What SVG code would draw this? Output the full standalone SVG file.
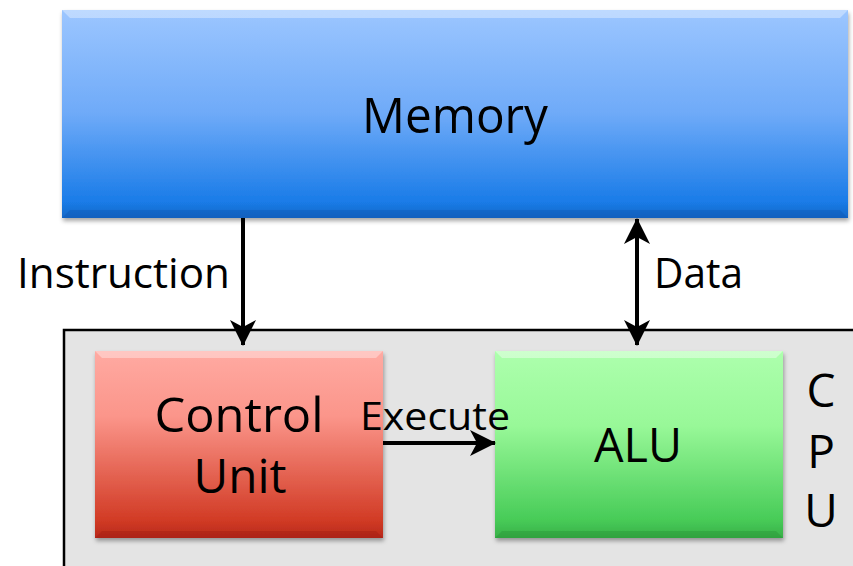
<svg xmlns="http://www.w3.org/2000/svg" width="853" height="566" viewBox="0 0 853 566">
<defs>
<linearGradient id="gBlue" x1="0" y1="0" x2="0" y2="1">
<stop offset="0" stop-color="#9cc6ff"/>
<stop offset="0.5" stop-color="#6eaaf8"/>
<stop offset="0.92" stop-color="#1a7ce8"/>
<stop offset="1" stop-color="#1668c8"/>
</linearGradient>
<linearGradient id="gRed" x1="0" y1="0" x2="0" y2="1">
<stop offset="0" stop-color="#ffaaa2"/>
<stop offset="0.35" stop-color="#fb958a"/>
<stop offset="0.9" stop-color="#d23c26"/>
<stop offset="1" stop-color="#b8281a"/>
</linearGradient>
<linearGradient id="gGreen" x1="0" y1="0" x2="0" y2="1">
<stop offset="0" stop-color="#adffad"/>
<stop offset="0.4" stop-color="#98f898"/>
<stop offset="0.9" stop-color="#48cc58"/>
<stop offset="1" stop-color="#38b048"/>
</linearGradient>
<filter id="sh" x="-5%" y="-5%" width="110%" height="115%">
<feDropShadow dx="1" dy="3" stdDeviation="2" flood-color="#000" flood-opacity="0.35"/>
</filter>
<marker id="ah" viewBox="0 0 12 12" refX="11" refY="6" markerWidth="12" markerHeight="12" markerUnits="userSpaceOnUse" orient="auto-start-reverse">
<path d="M0,0 L12,6 L0,12 L3,6 Z" fill="#000"/>
</marker>
<marker id="ah2" viewBox="0 0 26 26" refX="25" refY="13" markerWidth="26" markerHeight="26" markerUnits="userSpaceOnUse" orient="auto-start-reverse">
<path d="M0,0 L26,13 L0,26 L7,13 Z" fill="#000"/>
</marker>
</defs>
<style>
text{font-family:"Open Sans","Noto Sans","DejaVu Sans",sans-serif;fill:#000}
.bevel{fill:none;stroke:#fff;stroke-opacity:0.45;stroke-width:2}
.conn{stroke:#000;stroke-width:4;fill:none}
</style>
<rect width="853" height="566" fill="#fff"/>

<g id="cpu">
<rect x="64" y="330" width="800" height="250" fill="#e4e4e4" stroke="#000" stroke-width="2.5"/>
<text x="821" y="407" font-size="46" text-anchor="middle">C</text>
<text x="821" y="468" font-size="46" text-anchor="middle">P</text>
<text x="821" y="527" font-size="46" text-anchor="middle">U</text>
</g>

<g id="memory">
<rect x="62" y="10" width="786" height="208" fill="url(#gBlue)" filter="url(#sh)"/>
<path d="M62,10 L848,10 L840,18 L70,18 Z" fill="#fff" opacity="0.35"/>
<path d="M62,218 L848,218 L840,210 L70,210 Z" fill="#0a50a8" opacity="0.3"/>
<text x="455" y="133" font-size="50" text-anchor="middle" textLength="186" lengthAdjust="spacingAndGlyphs">Memory</text>
</g>

<g id="control-unit">
<rect x="95" y="351" width="288" height="187" fill="url(#gRed)" filter="url(#sh)"/>
<path d="M95,351 L383,351 L376,358 L102,358 Z" fill="#fff" opacity="0.35"/>
<path d="M95,538 L383,538 L376,531 L102,531 Z" fill="#8a1408" opacity="0.25"/>
<text x="239" y="432" font-size="48" text-anchor="middle" textLength="169" lengthAdjust="spacingAndGlyphs">Control</text>
<text x="240" y="493" font-size="48" text-anchor="middle" textLength="93" lengthAdjust="spacingAndGlyphs">Unit</text>
</g>

<g id="alu">
<rect x="495" y="351" width="288" height="187" fill="url(#gGreen)" filter="url(#sh)"/>
<path d="M495,351 L783,351 L776,358 L502,358 Z" fill="#fff" opacity="0.4"/>
<path d="M495,538 L783,538 L776,531 L502,531 Z" fill="#1a7a28" opacity="0.25"/>
<text x="638" y="462" font-size="48" text-anchor="middle" textLength="88" lengthAdjust="spacingAndGlyphs">ALU</text>
</g>

<g id="connectors">
<line class="conn" x1="243" y1="218" x2="243" y2="345" marker-end="url(#ah2)"/>
<line class="conn" x1="637" y1="219" x2="637" y2="345" marker-start="url(#ah2)" marker-end="url(#ah2)"/>
<line class="conn" x1="383" y1="443" x2="495" y2="443" marker-end="url(#ah2)"/>
<text x="230" y="288" font-size="42" text-anchor="end" textLength="213" lengthAdjust="spacingAndGlyphs">Instruction</text>
<text x="654" y="288" font-size="42" textLength="89" lengthAdjust="spacingAndGlyphs">Data</text>
<text x="360" y="430" font-size="38" textLength="150" lengthAdjust="spacingAndGlyphs">Execute</text>
</g>
</svg>
